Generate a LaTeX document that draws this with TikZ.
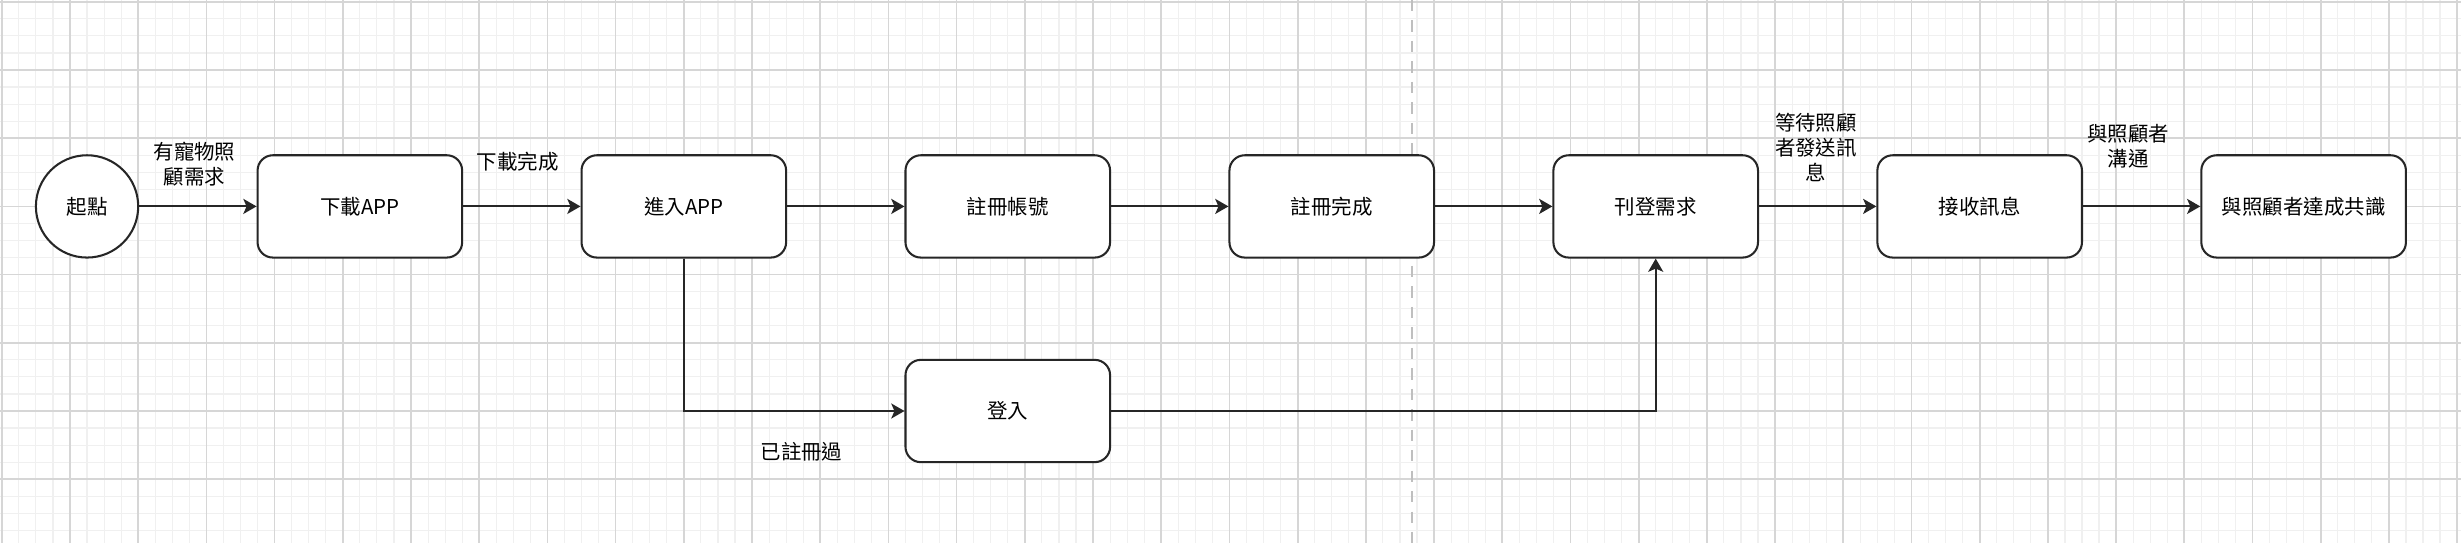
\documentclass[tikz,border=0pt]{standalone}
\usepackage{fontspec}
\newfontfamily\cjk{Noto Sans CJK TC}
\usetikzlibrary{arrows.meta}

\begin{document}
\begin{tikzpicture}[x=0.75pt,y=0.75pt,yscale=-1,xscale=1,
  font=\cjk\fontsize{9}{10.9}\selectfont,
  stepbox/.style={draw=black!85,line width=0.9pt,rounded corners=6.75pt,fill=white,minimum width=90pt,minimum height=45pt,inner sep=0pt},
  startnode/.style={draw=black!85,line width=0.9pt,circle,fill=white,minimum size=45pt,inner sep=0pt},
  conn/.style={draw=black!85,line width=0.9pt,-{Stealth[length=5.8pt,width=6.6pt,inset=1.4pt]}},
  lbl/.style={align=center,inner sep=0pt},
  minorgrid/.style={draw=black!6,line width=0.5pt},
  majorgrid/.style={draw=black!16,line width=0.75pt},
  pagebreak/.style={draw=black!25,line width=0.9pt,dash pattern={on 5pt off 4pt}}]
%set diagram left start at -1, and has height of 318.5
\useasboundingbox (-1.06,-1.06) rectangle (1442.3,317.4);
\fill[white] (-1.06,-1.06) rectangle (1442.3,317.4);

% Grid
\draw[minorgrid] (-1.06,-1.06) grid[step=7.5pt] (1442.3,317.4);
\draw[majorgrid] (-1.06,-1.06) grid[step=30pt] (1442.3,317.4);
% Page break
\draw[pagebreak] (827,-1.06) -- (827,317.4);

% Text Node
\node[startnode] (start) at (50,120) {起點};
% Text Node
\node[stepbox] (download) at (210,120) {下載APP};
% Text Node
\node[stepbox] (enter) at (400,120) {進入APP};
% Text Node
\node[stepbox] (signup) at (590,120) {註冊帳號};
% Text Node
\node[stepbox] (signed) at (780,120) {註冊完成};
% Text Node
\node[stepbox] (post) at (970,120) {刊登需求};
% Text Node
\node[stepbox] (receive) at (1160,120) {接收訊息};
% Text Node
\node[stepbox] (agree) at (1350,120) {與照顧者達成共識};
% Text Node
\node[stepbox] (login) at (590,240) {登入};

% Connection
\draw[conn] (start) -- (download);
\node[lbl] (lblneed) at (113,95.3) {有寵物照\\顧需求};
% Connection
\draw[conn] (download) -- (enter);
\node[lbl] (lbldone) at (302.6,94) {下載完成};
% Connection
\draw[conn] (enter) -- (signup);
% Connection
\draw[conn] (signup) -- (signed);
% Connection
\draw[conn] (signed) -- (post);
% Connection
\draw[conn] (post) -- (receive);
\node[lbl] (lblwait) at (1064,85.5) {等待照顧\\者發送訊\\息};
% Connection
\draw[conn] (receive) -- (agree);
\node[lbl] (lbltalk) at (1247,84.8) {與照顧者\\溝通};
% Connection
\draw[conn] (enter.south) |- (login.west);
\node[lbl] (lblreg) at (469,264) {已註冊過};
% Connection
\draw[conn] (login.east) -| (post.south);

\end{tikzpicture}
\end{document}
